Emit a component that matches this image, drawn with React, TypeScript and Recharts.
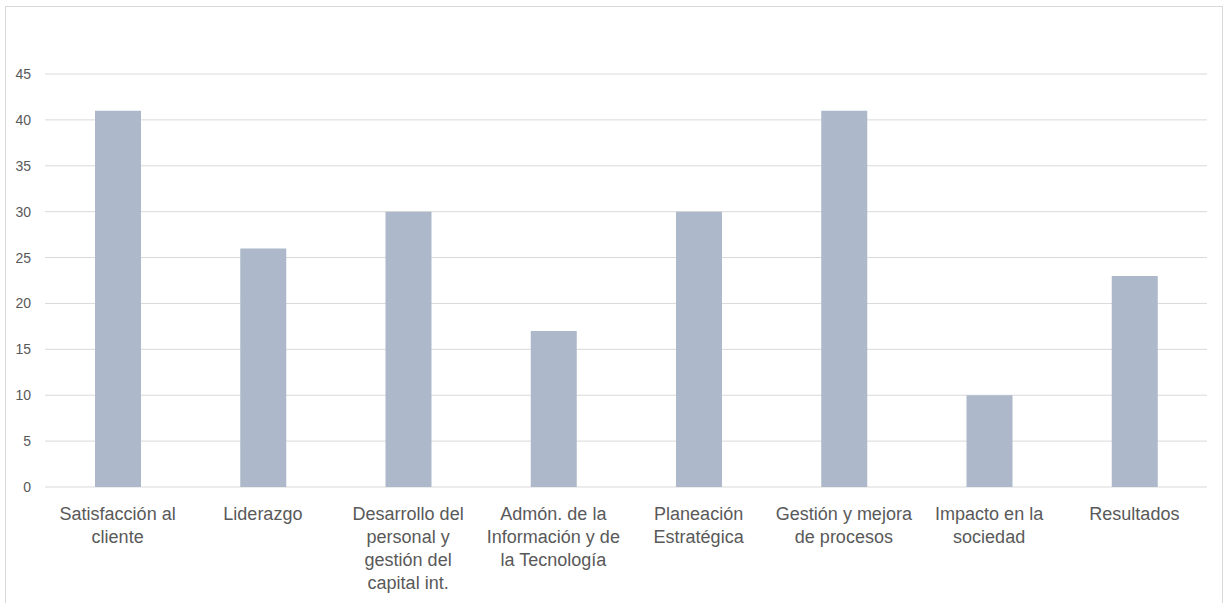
import React from "react";
import { BarChart, Bar, XAxis, YAxis, CartesianGrid } from "recharts";

// Categories (line breaks follow the reference's label wrapping)
const categories: string[] = [
  "Satisfacción al\ncliente",
  "Liderazgo",
  "Desarrollo del\npersonal y\ngestión del\ncapital int.",
  "Admón. de la\nInformación y de\nla Tecnología",
  "Planeación\nEstratégica",
  "Gestión y mejora\nde procesos",
  "Impacto en la\nsociedad",
  "Resultados",
];

const values: number[] = [41, 26, 30, 17, 30, 41, 10, 23];

const yTicks: number[] = [0, 5, 10, 15, 20, 25, 30, 35, 40, 45];

const data = categories.map((name, i) => ({ name, value: values[i] }));

const FONT = '"Liberation Sans", Arial, sans-serif';

function CategoryTick(props: any) {
  const { x, y, payload } = props;
  const lines = String(payload.value).split("\n");
  return (
    <text
      x={x}
      y={y}
      textAnchor="middle"
      fill="#595959"
      fontSize={18}
      fontFamily={FONT}
    >
      {lines.map((line, i) => (
        <tspan key={i} x={x} dy={i === 0 ? 25 : 23}>
          {line}
        </tspan>
      ))}
    </text>
  );
}

export default function App() {
  return (
    <div
      style={{
        position: "absolute",
        left: 0,
        top: 0,
        width: 1225,
        height: 603,
        background: "#fff",
        overflow: "hidden",
      }}
    >
      <div
        style={{
          position: "absolute",
          left: 5,
          top: 6,
          width: 1216,
          height: 620,
          border: "1px solid #D9D9D9",
        }}
      />
      <div style={{ position: "absolute", left: 0, top: 0 }}>
        <BarChart
          width={1225}
          height={603}
          data={data}
          margin={{ top: 74, right: 18, bottom: 0, left: 0 }}
          barCategoryGap={0}
        >
          <CartesianGrid
            horizontal
            vertical={false}
            stroke="#D9D9D9"
            strokeWidth={1}
          />
          <XAxis
            dataKey="name"
            axisLine={false}
            tickLine={false}
            interval={0}
            height={116}
            tick={<CategoryTick />}
          />
          <YAxis
            domain={[0, 45]}
            ticks={yTicks}
            width={45}
            axisLine={false}
            tickLine={false}
            tickSize={0}
            tickMargin={14}
            interval={0}
            tick={{ fontSize: 14, fill: "#595959", fontFamily: FONT }}
          />
          <Bar
            dataKey="value"
            fill="#ADB9CA"
            barSize={46}
            isAnimationActive={false}
          />
        </BarChart>
      </div>
    </div>
  );
}
